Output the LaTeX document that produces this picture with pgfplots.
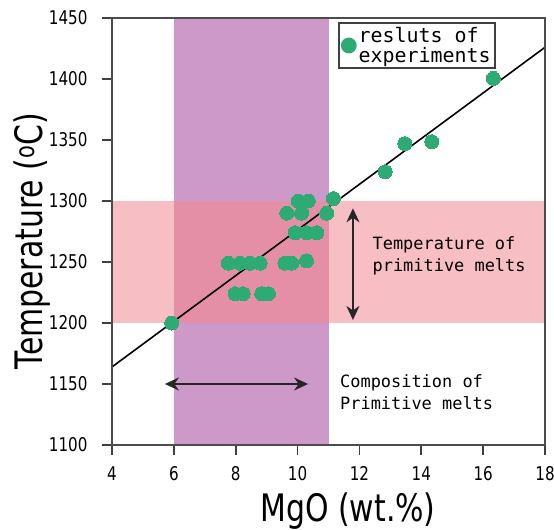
\documentclass[border=0pt]{standalone}
\usepackage{pgfplots}
\pgfplotsset{compat=1.18}
\usepackage{fontspec}
\setmainfont{DejaVu Sans}
\newfontfamily\tickfont[FakeStretch=0.8]{DejaVu Sans}
\newfontfamily\labfont[FakeStretch=0.79]{DejaVu Sans}
\newfontfamily\monofont{DejaVu Sans Mono}
\usetikzlibrary{arrows.meta}
\definecolor{purpband}{HTML}{CC99C8}
\definecolor{pinkband}{HTML}{F7BEC3}
\definecolor{overband}{HTML}{E48FA6}
\definecolor{ptgreen}{HTML}{2EAA74}
\begin{document}
\begin{tikzpicture}
\begin{axis}[
  width=433bp, height=427bp, scale only axis,
  xmin=4, xmax=18, ymin=1100, ymax=1450,
  xtick={4,6,...,18}, ytick={1100,1150,...,1450},
  tick align=outside, xtick pos=bottom, ytick pos=left,
  major tick length=10bp,
  every tick/.style={line width=1.8bp, black!75},
  axis line style={line width=2.2bp, black!70},
  axis on top,
  /pgf/number format/1000 sep={},
  /pgf/number format/assume math mode=true,
  tick label style={font=\fontsize{19}{19}\selectfont\tickfont},
  yticklabel style={xshift=-11bp},
  xticklabel style={yshift=-8bp},
  xlabel={MgO (wt.\%)},
  ylabel={Temperature (\textsuperscript{o}C)},
  label style={font=\fontsize{38}{38}\selectfont\labfont},
  xlabel style={at={(axis description cs:0.545,0)}, anchor=base, yshift=-76bp},
  ylabel style={at={(axis description cs:0,0.478)}, anchor=base, yshift=69bp},
  legend style={at={(axis description cs:0.522,0.99)}, anchor=north west,
    draw=black!75, line width=1.8bp, inner sep=2bp,
    font=\fontsize{20}{20}\selectfont\monofont, cells={align=left}},
  legend cell align=left,
  legend image code/.code={\fill[ptgreen] (0.12cm,0) circle (7bp);},
]
% bands
\addplot[fill=pinkband, draw=none, forget plot] coordinates {(4,1200) (18,1200) (18,1300) (4,1300)} -- cycle;
\addplot[fill=purpband, draw=none, forget plot] coordinates {(6,1100) (11,1100) (11,1450) (6,1450)} -- cycle;
\addplot[fill=overband, draw=none, forget plot] coordinates {(6,1200) (11,1200) (11,1300) (6,1300)} -- cycle;
% arrows
\addplot[black!85, line width=2bp, forget plot, {Stealth[length=14bp,width=13bp]}-{Stealth[length=14bp,width=13bp]}] coordinates {(11.79,1294) (11.79,1202.5)};
\addplot[black!85, line width=2bp, forget plot, {Stealth[length=14bp,width=13bp]}-{Stealth[length=14bp,width=13bp]}] coordinates {(5.71,1150) (10.34,1150)};
% regression line
\addplot[black, line width=1.6bp, forget plot] coordinates {(4,1164) (18,1426)};
% experiments
\addplot[only marks, color=ptgreen, mark=*, mark size=7bp, mark options={fill=ptgreen, draw=ptgreen, line width=0pt}] coordinates {
(5.93,1200)
(7.98,1224) (8.24,1224) (8.84,1224) (9.06,1224)
(7.76,1249) (8.14,1249) (8.46,1249) (8.79,1249) (9.59,1249) (9.81,1249) (10.29,1251)
(9.92,1274) (10.29,1274) (10.62,1274)
(9.65,1290) (10.13,1290) (10.94,1290)
(10.02,1300) (10.35,1300) (11.16,1302)
(12.83,1324) (13.47,1347) (14.34,1348.6) (16.33,1400.5)
};
\addlegendentry{resluts of\\experiments}
\node[font=\fontsize{17}{22.5}\selectfont\monofont, align=left] at (axis cs:14.9,1255) {Temperature of\\primitive melts};
\node[font=\fontsize{17}{22.5}\selectfont\monofont, align=left] at (axis cs:13.85,1143.4) {Composition of\\Primitive melts};
\end{axis}
\pgfresetboundingbox
\path (-112bp,-85bp) rectangle (442bp,445bp);
\end{tikzpicture}
\end{document}
